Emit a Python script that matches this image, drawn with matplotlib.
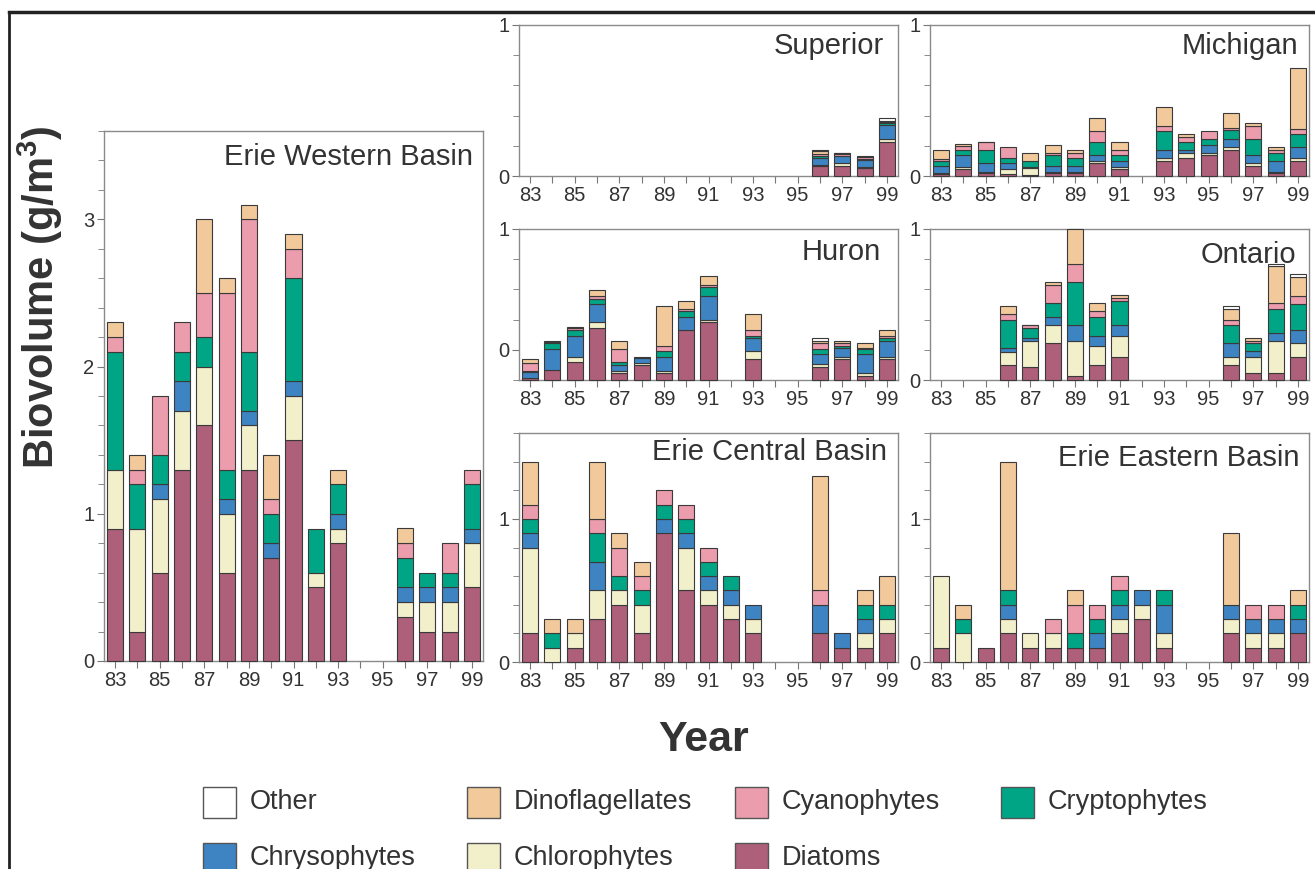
import matplotlib
matplotlib.use("Agg")
import matplotlib.pyplot as plt
from matplotlib.patches import Rectangle
from matplotlib.lines import Line2D

plt.rcParams['font.family'] = ['Liberation Sans', 'DejaVu Sans']
plt.rcParams['mathtext.fontset'] = 'custom'
plt.rcParams['mathtext.rm'] = 'Liberation Sans'
plt.rcParams['mathtext.bf'] = 'Liberation Sans:bold'

years = list(range(83, 100))
groups = ["Diatoms", "Chlorophytes", "Chrysophytes", "Cryptophytes",
          "Cyanophytes", "Dinoflagellates", "Other"]
colors = {"Diatoms": "#ae5f79", "Chlorophytes": "#f2efcb", "Chrysophytes": "#3e84c2",
          "Cryptophytes": "#00a585", "Cyanophytes": "#eb9cad", "Dinoflagellates": "#f1c99b",
          "Other": "#ffffff"}

# biovolume g/m3 by year 83..99, 0 = no sample / not present
z = [0] * 17

erie_w = {
    "Diatoms":         [0.9, 0.2, 0.6, 1.3, 1.6, 0.6, 1.3, 0.7, 1.5, 0.5, 0.8, 0, 0, 0.3, 0.2, 0.2, 0.5],
    "Chlorophytes":    [0.4, 0.7, 0.5, 0.4, 0.4, 0.4, 0.3, 0, 0.3, 0.1, 0.1, 0, 0, 0.1, 0.2, 0.2, 0.3],
    "Chrysophytes":    [0, 0, 0.1, 0.2, 0, 0.1, 0.1, 0.1, 0.1, 0, 0.1, 0, 0, 0.1, 0.1, 0.1, 0.1],
    "Cryptophytes":    [0.8, 0.3, 0.2, 0.2, 0.2, 0.2, 0.4, 0.2, 0.7, 0.3, 0.2, 0, 0, 0.2, 0.1, 0.1, 0.3],
    "Cyanophytes":     [0.1, 0.1, 0.4, 0.2, 0.3, 1.2, 0.9, 0.1, 0.2, 0, 0, 0, 0, 0.1, 0, 0.2, 0.1],
    "Dinoflagellates": [0.1, 0.1, 0, 0, 0.5, 0.1, 0.1, 0.3, 0.1, 0, 0.1, 0, 0, 0.1, 0, 0, 0],
    "Other":           z,
}

superior = {
    "Diatoms":         [0] * 13 + [0.065, 0.065, 0.05, 0.225],
    "Chlorophytes":    [0] * 13 + [0.008, 0.02, 0.008, 0.02],
    "Chrysophytes":    [0] * 13 + [0.045, 0.05, 0.045, 0.09],
    "Cryptophytes":    [0] * 13 + [0.015, 0, 0.012, 0.015],
    "Cyanophytes":     [0] * 13 + [0.01, 0.01, 0.013, 0.005],
    "Dinoflagellates": [0] * 13 + [0.02, 0.005, 0.007, 0.008],
    "Other":           [0] * 13 + [0.01, 0.005, 0, 0.02],
}

michigan = {
    "Diatoms":         [0.01, 0.045, 0.018, 0.013, 0.007, 0.018, 0.018, 0.084, 0.049, 0, 0.102, 0.118, 0.14, 0.173, 0.067, 0.018, 0.1],
    "Chlorophytes":    [0.01, 0.015, 0.011, 0.034, 0.044, 0.011, 0.011, 0.018, 0.013, 0, 0.016, 0.033, 0.015, 0.017, 0.017, 0.011, 0.018],
    "Chrysophytes":    [0.047, 0.08, 0.055, 0.037, 0.011, 0.038, 0.038, 0.035, 0.04, 0, 0.055, 0.022, 0.053, 0.054, 0.053, 0.073, 0.072],
    "Cryptophytes":    [0.033, 0.03, 0.089, 0.034, 0.04, 0.07, 0.053, 0.085, 0.035, 0, 0.124, 0.049, 0.036, 0.058, 0.107, 0.053, 0.087],
    "Cyanophytes":     [0.013, 0.03, 0.05, 0.072, 0, 0.018, 0.035, 0.073, 0.036, 0, 0.033, 0.033, 0.051, 0.015, 0.089, 0.018, 0.033],
    "Dinoflagellates": [0.06, 0.012, 0.005, 0, 0.053, 0.053, 0.018, 0.089, 0.053, 0, 0.125, 0.022, 0, 0.1, 0.017, 0.017, 0.406],
    "Other":           z,
}

huron = {
    "Diatoms":         [0.01, 0.066, 0.117, 0.347, 0.044, 0.1, 0.044, 0.33, 0.383, 0, 0.137, 0, 0, 0.084, 0.137, 0.029, 0.137],
    "Chlorophytes":    [0.005, 0, 0.038, 0.036, 0.018, 0.015, 0.018, 0, 0.015, 0, 0.055, 0, 0, 0.02, 0.018, 0.02, 0.018],
    "Chrysophytes":    [0.035, 0.14, 0.139, 0.121, 0.038, 0.033, 0.093, 0.086, 0.16, 0, 0.085, 0, 0, 0.066, 0.055, 0.121, 0.104],
    "Cryptophytes":    [0.012, 0.037, 0.036, 0.034, 0.017, 0, 0.037, 0.038, 0.055, 0, 0.017, 0, 0, 0.036, 0.016, 0.036, 0.018],
    "Cyanophytes":     [0.05, 0.011, 0.017, 0.015, 0.089, 0, 0.034, 0.017, 0.018, 0, 0.036, 0, 0, 0.037, 0.017, 0.004, 0.017],
    "Dinoflagellates": [0.027, 0.007, 0.003, 0.042, 0.055, 0.007, 0.261, 0.053, 0.055, 0, 0.106, 0, 0, 0.018, 0.018, 0.033, 0.036],
    "Other":           [0] * 13 + [0.016, 0, 0, 0],
}

ontario = {
    "Diatoms":         [0, 0, 0, 0.1, 0.084, 0.243, 0.029, 0.1, 0.155, 0, 0, 0, 0, 0.1, 0.049, 0.049, 0.155],
    "Chlorophytes":    [0, 0, 0, 0.088, 0.175, 0.122, 0.23, 0.123, 0.139, 0, 0, 0, 0, 0.055, 0.106, 0.21, 0.088],
    "Chrysophytes":    [0, 0, 0, 0.022, 0.018, 0.051, 0.106, 0.071, 0.071, 0, 0, 0, 0, 0.088, 0.037, 0.055, 0.087],
    "Cryptophytes":    [0, 0, 0, 0.188, 0.07, 0.093, 0.283, 0.122, 0.159, 0, 0, 0, 0, 0.122, 0.051, 0.155, 0.174],
    "Cyanophytes":     [0, 0, 0, 0.038, 0.014, 0.122, 0.12, 0.038, 0.018, 0, 0, 0, 0, 0.033, 0.016, 0.04, 0.054],
    "Dinoflagellates": [0, 0, 0, 0.053, 0.006, 0.017, 0.232, 0.055, 0.018, 0, 0, 0, 0, 0.073, 0.018, 0.243, 0.121],
    "Other":           [0] * 13 + [0.018, 0, 0.018, 0.022],
}

erie_c = {
    "Diatoms":         [0.2, 0, 0.1, 0.3, 0.4, 0.2, 0.9, 0.5, 0.4, 0.3, 0.2, 0, 0, 0.2, 0.1, 0.1, 0.2],
    "Chlorophytes":    [0.6, 0.1, 0.1, 0.2, 0.1, 0.2, 0, 0.3, 0.1, 0.1, 0.1, 0, 0, 0, 0, 0.1, 0.1],
    "Chrysophytes":    [0.1, 0, 0, 0.2, 0, 0, 0.1, 0.1, 0.1, 0.1, 0.1, 0, 0, 0.2, 0.1, 0.1, 0],
    "Cryptophytes":    [0.1, 0.1, 0, 0.2, 0.1, 0.1, 0.1, 0.1, 0.1, 0.1, 0, 0, 0, 0, 0, 0.1, 0.1],
    "Cyanophytes":     [0.1, 0, 0, 0.1, 0.2, 0.1, 0.1, 0.1, 0.1, 0, 0, 0, 0, 0.1, 0, 0, 0],
    "Dinoflagellates": [0.3, 0.1, 0.1, 0.4, 0.1, 0.1, 0, 0, 0, 0, 0, 0, 0, 0.8, 0, 0.1, 0.2],
    "Other":           z,
}

erie_e = {
    "Diatoms":         [0.1, 0, 0.1, 0.2, 0.1, 0.1, 0.1, 0.1, 0.2, 0.3, 0.1, 0, 0, 0.2, 0.1, 0.1, 0.2],
    "Chlorophytes":    [0.5, 0.2, 0, 0.1, 0.1, 0.1, 0, 0, 0.1, 0.1, 0.1, 0, 0, 0.1, 0.1, 0.1, 0],
    "Chrysophytes":    [0, 0, 0, 0.1, 0, 0, 0, 0.1, 0.1, 0.1, 0.2, 0, 0, 0.1, 0.1, 0.1, 0.1],
    "Cryptophytes":    [0, 0.1, 0, 0.1, 0, 0, 0.1, 0.1, 0.1, 0, 0.1, 0, 0, 0, 0, 0, 0.1],
    "Cyanophytes":     [0, 0, 0, 0, 0, 0.1, 0.2, 0.1, 0.1, 0, 0, 0, 0, 0, 0.1, 0.1, 0],
    "Dinoflagellates": [0, 0.1, 0, 0.9, 0, 0, 0.1, 0, 0, 0, 0, 0, 0, 0.5, 0, 0, 0.1],
    "Other":           z,
}

W, H = 1315, 869
fig = plt.figure(figsize=(W / 100, H / 100), dpi=100)


def px_axes(left, top, right, bottom):
    return fig.add_axes([left / W, 1 - bottom / H, (right - left) / W, (bottom - top) / H])


def panel(ax, data, title, ymax, yt, ytl, tx, ty):
    base = [0.0] * len(years)
    for g in groups:
        vals = data[g]
        xs = [y for y, v in zip(years, vals) if v > 0]
        hs = [v for v in vals if v > 0]
        bs = [b for b, v in zip(base, vals) if v > 0]
        ax.bar(xs, hs, bottom=bs, width=0.72, color=colors[g],
               edgecolor="#3a3a3a", linewidth=0.8, zorder=3, clip_on=False)
        base = [b + v for b, v in zip(base, vals)]
    ax.set_xlim(82.5, 99.5)
    ax.set_ylim(0, ymax)
    ax.set_xticks(years)
    ax.set_xticklabels([str(y) if y % 2 else "" for y in years])
    ax.set_yticks(yt)
    ax.set_yticklabels(ytl)
    minor = [i * 0.2 for i in range(int(round(ymax / 0.2)) + 1)]
    ax.set_yticks(minor, minor=True)
    ax.tick_params(axis="both", which="both", direction="out", color="#777777",
                   labelcolor="#333333", labelsize=14.5, pad=2)
    ax.tick_params(axis="both", which="major", length=5)
    ax.tick_params(axis="y", which="minor", length=4)
    for s in ax.spines.values():
        s.set_color("#8a8a8a")
        s.set_linewidth(1.0)
    ax.annotate(title, xy=(1, 1), xycoords="axes fraction", xytext=(tx, ty),
                textcoords="offset pixels", ha="right", va="center",
                fontsize=21, color="#333333")


ax = px_axes(104, 131, 483, 661)
panel(ax, erie_w, "Erie Western Basin", 3.5, [0, 1, 2, 3], ["0", "1", "2", "3"], -10, -26)

ax = px_axes(519, 25, 898, 176)
panel(ax, superior, "Superior", 1.0, [0, 1], ["0", "1"], -14, -21)

ax = px_axes(930, 25, 1309, 176)
panel(ax, michigan, "Michigan", 1.0, [0, 1], ["0", "1"], -11, -21)

ax = px_axes(519, 229, 898, 380)
panel(ax, huron, "Huron", 1.0, [0.2, 1], ["0", "1"], -17, -23)

ax = px_axes(930, 229, 1309, 380)
panel(ax, ontario, "Ontario", 1.0, [0, 1], ["0", "1"], -13, -26)

ax = px_axes(519, 433, 898, 662)
panel(ax, erie_c, "Erie Central Basin", 1.5, [0, 1], ["0", "1"], -11, -19)

ax = px_axes(930, 433, 1309, 662)
panel(ax, erie_e, "Erie Eastern Basin", 1.5, [0, 1], ["0", "1"], -9, -25)

fig.text(40 / W, 1 - 297 / H, r"Biovolume (g/m$^{\mathbf{3}}$)", rotation=90,
         ha="center", va="center", fontsize=30, fontweight="bold", color="#333333")
fig.text(704 / W, 1 - 740 / H, "Year", ha="center", va="center",
         fontsize=31, fontweight="bold", color="#333333")

# legend, laid out by hand like the original
legend_rows = [["Other", "Dinoflagellates", "Cyanophytes", "Cryptophytes"],
               ["Chrysophytes", "Chlorophytes", "Diatoms"]]
col_x = [203, 467, 735, 1001]
row_top = [787, 843]
for r, row in enumerate(legend_rows):
    for c, g in enumerate(row):
        x0, y0 = col_x[c], row_top[r]
        fig.add_artist(Rectangle((x0 / W, 1 - (y0 + 31) / H), 33 / W, 31 / H,
                                 transform=fig.transFigure, facecolor=colors[g],
                                 edgecolor="#555555", linewidth=1.0))
        fig.text((x0 + 47) / W, 1 - (y0 + 15) / H, g, ha="left", va="center",
                 fontsize=19.5, color="#333333")

# outer frame: top and left edges only
fig.add_artist(Line2D([9 / W, 1], [1 - 12 / H, 1 - 12 / H], transform=fig.transFigure,
                      color="#222222", linewidth=2.5))
fig.add_artist(Line2D([9 / W, 9 / W], [0, 1 - 12 / H], transform=fig.transFigure,
                      color="#222222", linewidth=2.0))

fig.savefig("out.png", dpi=100)
